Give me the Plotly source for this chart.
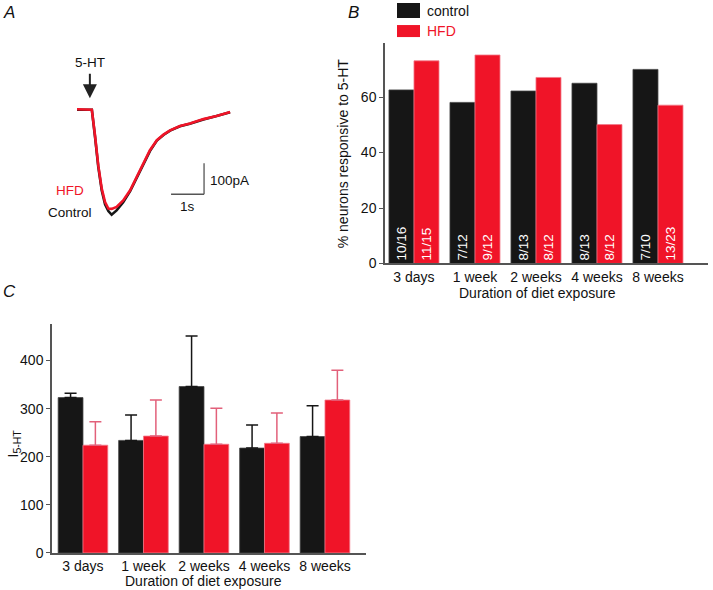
import plotly.graph_objects as go

W, H = 713, 590

# panel A: 5-HT evoked current (time in s, current in pA)
trace_t = [0.0, 0.45, 0.545, 0.645, 0.75, 0.85, 0.95, 1.0, 1.05, 1.20, 1.40, 1.61, 1.81,
           2.01, 2.21, 2.42, 2.62, 2.82, 3.12, 3.42, 3.83, 4.23, 4.64]
control_pA = [-2, -2, -88, -186, -262, -306, -328, -336, -340, -326, -300, -264, -221,
              -173, -135, -101, -83, -69, -55, -47, -33, -22, -10]
hfd_pA = [0, -2, -84, -181, -256, -299, -320, -320, -321, -315, -294, -261, -218,
          -170, -132, -100, -82, -68, -54, -46, -32, -22, -9]

# panel B: % responsive
durations = ["3 days", "1 week", "2 weeks", "4 weeks", "8 weeks"]
pct_control = [62.6, 58.1, 62.2, 65.0, 70.0]
pct_hfd = [73.1, 75.2, 67.1, 50.1, 57.1]
n_control = ["10/16", "7/12", "8/13", "8/13", "7/10"]
n_hfd = ["11/15", "9/12", "8/12", "8/12", "13/23"]

# panel C: I5-HT mean and upper error
i_control = [323, 234, 346, 218, 242]
i_control_err = [9, 53, 105, 48, 64]
i_hfd = [224, 243, 226, 228, 318]
i_hfd_err = [49, 75, 75, 63, 62]

BLACK = "#161616"
RED = "#f01428"
FONT = "Liberation Sans, Arial, sans-serif"


def px(x):
    return x / W


def py(y):
    return 1 - y / H


fig = go.Figure()

# panel A traces
fig.add_trace(go.Scatter(x=trace_t, y=control_pA, mode="lines", line=dict(color=BLACK, width=2.6),
                         xaxis="x", yaxis="y", showlegend=False))
fig.add_trace(go.Scatter(x=trace_t, y=hfd_pA, mode="lines", line=dict(color=RED, width=2.6),
                         xaxis="x", yaxis="y", showlegend=False))

# panel B bars
fig.add_trace(go.Bar(x=durations, y=pct_control, text=n_control, marker=dict(color=BLACK, line=dict(color="#444", width=0.8)),
                     textposition="inside", insidetextanchor="start", textangle=-90,
                     textfont=dict(color="white", size=13.5, family=FONT),
                     xaxis="x2", yaxis="y2", showlegend=False, offsetgroup="c"))
fig.add_trace(go.Bar(x=durations, y=pct_hfd, text=n_hfd, marker=dict(color=RED, line=dict(color="#f27a8a", width=0.8)),
                     textposition="inside", insidetextanchor="start", textangle=-90,
                     textfont=dict(color="white", size=13.5, family=FONT),
                     xaxis="x2", yaxis="y2", showlegend=False, offsetgroup="h"))

# panel C bars
fig.add_trace(go.Bar(x=durations, y=i_control, marker=dict(color=BLACK, line=dict(color="#444", width=0.8)),
                     error_y=dict(type="data", array=i_control_err, arrayminus=[0] * 5, symmetric=False,
                                  color=BLACK, thickness=1.5, width=6),
                     xaxis="x3", yaxis="y3", showlegend=False, offsetgroup="c"))
fig.add_trace(go.Bar(x=durations, y=i_hfd, marker=dict(color=RED, line=dict(color="#f27a8a", width=0.8)),
                     error_y=dict(type="data", array=i_hfd_err, arrayminus=[0] * 5, symmetric=False,
                                  color="#e2607a", thickness=1.5, width=6),
                     xaxis="x3", yaxis="y3", showlegend=False, offsetgroup="h"))

axis_common = dict(showline=True, linecolor="#555", linewidth=1.5, ticklen=4,
                   tickcolor="#555", showgrid=False, zeroline=False,
                   tickfont=dict(size=14, color="#111", family=FONT))

# the page comes out slightly squashed vertically, so the figure is drawn a little taller
fig.update_layout(
    width=W, height=599, margin=dict(l=0, r=0, t=0, b=0),
    paper_bgcolor="white", plot_bgcolor="rgba(0,0,0,0)",
    font=dict(family=FONT, color="#111"),
    barmode="group", bargap=0.18, bargroupgap=0,
    xaxis=dict(domain=[px(60.5), px(258.5)], range=[-0.5, 5.5], visible=False),
    yaxis=dict(domain=[py(233), py(78)], range=[-400, 100], visible=False),
    xaxis2=dict(domain=[px(385), px(708)], range=[-0.475, 4.82], anchor="y2", ticks="", **axis_common),
    yaxis2=dict(domain=[py(263), py(43)], range=[0, 79.5], anchor="x2", ticks="outside",
                tickvals=[0, 20, 40, 60], **axis_common),
    xaxis3=dict(domain=[px(52), px(366)], range=[-0.512, 4.678], anchor="y3", ticks="", **axis_common),
    yaxis3=dict(domain=[py(552), py(323)], range=[0, 477], anchor="x3", ticks="outside",
                tickvals=[0, 100, 200, 300, 400], **axis_common),
)

# scale bars for panel A
fig.add_shape(type="line", xref="x", yref="y", x0=2.85, x1=3.85, y0=-274, y1=-274, line=dict(color="#555", width=1.3))
fig.add_shape(type="line", xref="x", yref="y", x0=3.85, x1=3.85, y0=-274, y1=-174, line=dict(color="#555", width=1.3))

# legend for panel B
fig.add_shape(type="rect", xref="paper", yref="paper", x0=px(397), x1=px(420), y0=py(18), y1=py(3),
              fillcolor=BLACK, line=dict(width=0))
fig.add_shape(type="rect", xref="paper", yref="paper", x0=px(397), x1=px(420), y0=py(37), y1=py(25),
              fillcolor=RED, line=dict(width=0))


def note(text, x, y, size=13.5, color="#111", xanchor="center", angle=0, italic=False):
    fig.add_annotation(text=text, x=px(x), y=py(y), xref="paper", yref="paper", showarrow=False,
                       xanchor=xanchor, yanchor="middle", textangle=angle,
                       font=dict(size=size, color=color, family=FONT, style="italic" if italic else "normal"))


note("A", 9, 12, size=17, italic=True)
note("B", 353, 12, size=17, italic=True)
note("C", 9, 291, size=17, italic=True)

note("5-HT", 90, 62)
fig.add_annotation(x=0.39, y=35, xref="x", yref="y", ax=0, ay=-26, showarrow=True,
                   arrowhead=2, arrowsize=1.4, arrowwidth=2, arrowcolor="#222", text="")
note("100pA", 208, 180, xanchor="left")
note("1s", 187, 206)
note("HFD", 70, 190, color=RED)
note("Control", 70, 212)

note("control", 425, 11, size=14, xanchor="left")
note("HFD", 425, 31, size=14, color=RED, xanchor="left")

note("% neurons responsive to 5-HT", 343, 153, size=14, angle=-90)
note("Duration of diet exposure", 537, 293, size=14)
note("I<sub>5-HT</sub>", 14, 443, size=15, angle=-90)
note("Duration of diet exposure", 203, 580, size=14)

fig.write_html("out.html", config={"displayModeBar": False},
               post_script="document.documentElement.style.overflow='hidden';document.body.style.margin='0';document.body.style.overflow='hidden';")
